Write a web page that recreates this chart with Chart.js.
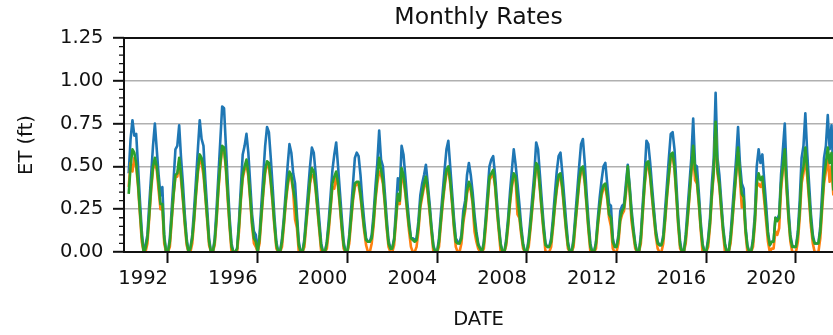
<!DOCTYPE html>
<html>
<head>
<meta charset="utf-8">
<script src="https://cdn.jsdelivr.net/npm/chart.js@4"></script>
<style>
  html, body { margin: 0; padding: 0; background: #ffffff; }
  canvas { display: block; }
</style>
</head>
<body>
<canvas id="chart" width="833" height="335"></canvas>
<script>
// First month of the monthly record
const FIRST_MONTH = '1990-04';

// Monthly ET (ft), upper series
const etHigh = [
  0.46, 0.66, 0.77, 0.68, 0.69, 0.50, 0.30, 0.12, 0.00,                 // 1990 Apr-Dec
  0.04, 0.10, 0.28, 0.45, 0.62, 0.75, 0.60, 0.45, 0.33, 0.38, 0.10, 0.00, // 1991
  0.00, 0.08, 0.25, 0.42, 0.60, 0.62, 0.74, 0.55, 0.40, 0.22, 0.08, 0.00, // 1992
  0.02, 0.10, 0.25, 0.42, 0.60, 0.77, 0.66, 0.62, 0.42, 0.25, 0.08, 0.00, // 1993
  0.00, 0.08, 0.25, 0.45, 0.65, 0.85, 0.84, 0.62, 0.40, 0.20, 0.05, 0.00, // 1994
  0.00, 0.02, 0.18, 0.38, 0.57, 0.62, 0.69, 0.58, 0.40, 0.22, 0.12, 0.10, // 1995
  0.00, 0.10, 0.28, 0.45, 0.62, 0.73, 0.70, 0.55, 0.38, 0.20, 0.06, 0.00, // 1996
  0.00, 0.08, 0.20, 0.35, 0.50, 0.63, 0.58, 0.46, 0.40, 0.22, 0.06, 0.00, // 1997
  0.00, 0.08, 0.22, 0.36, 0.50, 0.61, 0.58, 0.46, 0.32, 0.18, 0.05, 0.00, // 1998
  0.00, 0.06, 0.18, 0.33, 0.48, 0.57, 0.64, 0.50, 0.35, 0.20, 0.06, 0.00, // 1999
  0.00, 0.10, 0.25, 0.40, 0.55, 0.58, 0.56, 0.45, 0.30, 0.18, 0.08, 0.06, // 2000
  0.06, 0.10, 0.22, 0.38, 0.52, 0.71, 0.54, 0.50, 0.35, 0.20, 0.07, 0.02, // 2001
  0.02, 0.08, 0.25, 0.43, 0.36, 0.62, 0.57, 0.44, 0.30, 0.18, 0.08, 0.08, // 2002
  0.07, 0.08, 0.18, 0.33, 0.40, 0.45, 0.51, 0.40, 0.28, 0.15, 0.04, 0.00, // 2003
  0.00, 0.08, 0.22, 0.35, 0.48, 0.60, 0.65, 0.50, 0.35, 0.20, 0.08, 0.06, // 2004
  0.05, 0.10, 0.24, 0.30, 0.45, 0.52, 0.45, 0.35, 0.22, 0.12, 0.05, 0.02, // 2005
  0.00, 0.06, 0.20, 0.35, 0.50, 0.54, 0.56, 0.45, 0.30, 0.16, 0.05, 0.00, // 2006
  0.00, 0.08, 0.20, 0.35, 0.48, 0.60, 0.51, 0.40, 0.28, 0.15, 0.05, 0.00, // 2007
  0.00, 0.08, 0.20, 0.33, 0.46, 0.64, 0.60, 0.45, 0.30, 0.16, 0.05, 0.03, // 2008
  0.03, 0.08, 0.20, 0.34, 0.47, 0.56, 0.58, 0.46, 0.32, 0.18, 0.06, 0.00, // 2009
  0.00, 0.08, 0.22, 0.36, 0.50, 0.63, 0.66, 0.52, 0.34, 0.18, 0.05, 0.00, // 2010
  0.00, 0.06, 0.20, 0.32, 0.42, 0.50, 0.52, 0.40, 0.28, 0.27, 0.08, 0.03, // 2011
  0.03, 0.10, 0.24, 0.27, 0.28, 0.40, 0.51, 0.39, 0.25, 0.14, 0.05, 0.00, // 2012
  0.00, 0.10, 0.28, 0.45, 0.65, 0.63, 0.52, 0.38, 0.25, 0.13, 0.06, 0.04, // 2013
  0.04, 0.10, 0.25, 0.40, 0.55, 0.69, 0.70, 0.60, 0.40, 0.20, 0.06, 0.00, // 2014
  0.00, 0.10, 0.25, 0.40, 0.55, 0.78, 0.51, 0.50, 0.35, 0.18, 0.05, 0.00, // 2015
  0.00, 0.08, 0.20, 0.40, 0.55, 0.93, 0.55, 0.45, 0.30, 0.15, 0.05, 0.00, // 2016
  0.00, 0.10, 0.25, 0.40, 0.55, 0.73, 0.52, 0.40, 0.37, 0.15, 0.04, 0.00, // 2017
  0.00, 0.08, 0.22, 0.50, 0.60, 0.52, 0.57, 0.42, 0.28, 0.12, 0.04, 0.06, // 2018
  0.06, 0.20, 0.19, 0.22, 0.45, 0.60, 0.75, 0.45, 0.25, 0.10, 0.04, 0.03, // 2019
  0.03, 0.12, 0.30, 0.55, 0.62, 0.81, 0.58, 0.40, 0.22, 0.10, 0.05, 0.05, // 2020
  0.05, 0.15, 0.35, 0.55, 0.62, 0.80, 0.60, 0.74, 0.45, 0.20, 0.06, 0.02  // 2021
];

// Monthly ET (ft), lower series
const etLow = [
  0.38, 0.52, 0.47, 0.55, 0.50, 0.38, 0.22, 0.06, 0.00,                 // 1990 Apr-Dec
  0.00, 0.05, 0.20, 0.36, 0.48, 0.53, 0.48, 0.36, 0.25, 0.26, 0.05, 0.00, // 1991
  0.00, 0.03, 0.18, 0.33, 0.44, 0.44, 0.53, 0.42, 0.30, 0.16, 0.04, 0.00, // 1992
  0.00, 0.05, 0.18, 0.33, 0.46, 0.55, 0.52, 0.45, 0.32, 0.18, 0.04, 0.00, // 1993
  0.00, 0.04, 0.18, 0.36, 0.50, 0.60, 0.60, 0.48, 0.30, 0.14, 0.00, 0.00, // 1994
  0.00, 0.00, 0.12, 0.30, 0.43, 0.48, 0.52, 0.44, 0.30, 0.15, 0.05, 0.03, // 1995
  0.00, 0.05, 0.20, 0.34, 0.46, 0.51, 0.50, 0.40, 0.28, 0.14, 0.02, 0.00, // 1996
  0.00, 0.03, 0.15, 0.28, 0.38, 0.45, 0.43, 0.35, 0.19, 0.14, 0.00, 0.00, // 1997
  0.00, 0.03, 0.16, 0.28, 0.40, 0.45, 0.45, 0.36, 0.24, 0.12, 0.00, 0.00, // 1998
  0.00, 0.02, 0.12, 0.25, 0.38, 0.37, 0.45, 0.38, 0.26, 0.13, 0.02, 0.00, // 1999
  0.00, 0.05, 0.18, 0.30, 0.38, 0.40, 0.39, 0.32, 0.22, 0.12, 0.04, 0.00, // 2000
  0.00, 0.05, 0.15, 0.30, 0.40, 0.47, 0.45, 0.40, 0.28, 0.14, 0.03, 0.00, // 2001
  0.00, 0.04, 0.18, 0.32, 0.28, 0.45, 0.42, 0.34, 0.23, 0.12, 0.03, 0.00, // 2002
  0.00, 0.03, 0.12, 0.26, 0.32, 0.38, 0.42, 0.34, 0.23, 0.11, 0.00, 0.00, // 2003
  0.00, 0.03, 0.16, 0.28, 0.38, 0.46, 0.48, 0.40, 0.28, 0.14, 0.03, 0.00, // 2004
  0.00, 0.05, 0.17, 0.24, 0.34, 0.39, 0.36, 0.28, 0.12, 0.06, 0.02, 0.00, // 2005
  0.00, 0.02, 0.14, 0.28, 0.42, 0.44, 0.46, 0.38, 0.24, 0.12, 0.00, 0.00, // 2006
  0.00, 0.04, 0.15, 0.28, 0.38, 0.44, 0.42, 0.22, 0.20, 0.10, 0.02, 0.00, // 2007
  0.00, 0.03, 0.14, 0.26, 0.38, 0.50, 0.48, 0.36, 0.23, 0.11, 0.00, 0.00, // 2008
  0.00, 0.03, 0.14, 0.26, 0.36, 0.43, 0.44, 0.36, 0.24, 0.12, 0.02, 0.00, // 2009
  0.00, 0.03, 0.16, 0.28, 0.40, 0.47, 0.48, 0.40, 0.26, 0.12, 0.00, 0.00, // 2010
  0.00, 0.02, 0.15, 0.25, 0.33, 0.37, 0.38, 0.31, 0.20, 0.15, 0.02, 0.00, // 2011
  0.00, 0.05, 0.18, 0.22, 0.24, 0.34, 0.47, 0.35, 0.18, 0.10, 0.02, 0.00, // 2012
  0.00, 0.05, 0.22, 0.38, 0.50, 0.50, 0.43, 0.31, 0.20, 0.09, 0.02, 0.00, // 2013
  0.00, 0.05, 0.18, 0.32, 0.44, 0.55, 0.56, 0.48, 0.32, 0.15, 0.02, 0.00, // 2014
  0.00, 0.05, 0.18, 0.32, 0.46, 0.58, 0.42, 0.40, 0.28, 0.13, 0.00, 0.00, // 2015
  0.00, 0.03, 0.15, 0.32, 0.46, 0.73, 0.46, 0.38, 0.24, 0.11, 0.00, 0.00, // 2016
  0.00, 0.05, 0.18, 0.32, 0.45, 0.58, 0.43, 0.26, 0.30, 0.11, 0.00, 0.00, // 2017
  0.00, 0.03, 0.16, 0.38, 0.40, 0.38, 0.41, 0.30, 0.18, 0.06, 0.00, 0.02, // 2018
  0.02, 0.12, 0.10, 0.14, 0.36, 0.48, 0.56, 0.36, 0.19, 0.06, 0.00, 0.00, // 2019
  0.00, 0.06, 0.20, 0.40, 0.46, 0.55, 0.44, 0.30, 0.15, 0.05, 0.00, 0.00, // 2020
  0.00, 0.08, 0.25, 0.40, 0.47, 0.55, 0.41, 0.50, 0.33, 0.14, 0.02, 0.00  // 2021
];

// Monthly ET (ft), middle series
const etMid = [
  0.34, 0.50, 0.60, 0.58, 0.52, 0.40, 0.24, 0.09, 0.00,                 // 1990 Apr-Dec
  0.02, 0.08, 0.22, 0.38, 0.50, 0.55, 0.50, 0.40, 0.28, 0.28, 0.08, 0.00, // 1991
  0.00, 0.06, 0.20, 0.34, 0.45, 0.46, 0.55, 0.45, 0.32, 0.18, 0.06, 0.00, // 1992
  0.02, 0.08, 0.20, 0.35, 0.48, 0.57, 0.55, 0.48, 0.34, 0.20, 0.06, 0.00, // 1993
  0.00, 0.06, 0.20, 0.38, 0.52, 0.62, 0.61, 0.50, 0.33, 0.16, 0.03, 0.00, // 1994
  0.00, 0.02, 0.15, 0.32, 0.45, 0.50, 0.54, 0.46, 0.32, 0.17, 0.08, 0.06, // 1995
  0.00, 0.08, 0.22, 0.36, 0.48, 0.53, 0.52, 0.42, 0.30, 0.16, 0.04, 0.00, // 1996
  0.00, 0.06, 0.17, 0.30, 0.40, 0.47, 0.45, 0.37, 0.30, 0.18, 0.04, 0.00, // 1997
  0.00, 0.06, 0.18, 0.30, 0.42, 0.49, 0.47, 0.38, 0.26, 0.14, 0.03, 0.00, // 1998
  0.00, 0.05, 0.15, 0.27, 0.40, 0.44, 0.47, 0.40, 0.28, 0.15, 0.04, 0.00, // 1999
  0.00, 0.08, 0.20, 0.32, 0.40, 0.41, 0.41, 0.34, 0.24, 0.14, 0.07, 0.06, // 2000
  0.06, 0.08, 0.18, 0.32, 0.44, 0.55, 0.48, 0.42, 0.30, 0.16, 0.05, 0.02, // 2001
  0.02, 0.07, 0.20, 0.34, 0.30, 0.49, 0.45, 0.36, 0.25, 0.15, 0.08, 0.07, // 2002
  0.06, 0.07, 0.15, 0.28, 0.34, 0.40, 0.44, 0.36, 0.25, 0.13, 0.03, 0.00, // 2003
  0.00, 0.06, 0.18, 0.30, 0.40, 0.48, 0.50, 0.42, 0.30, 0.16, 0.06, 0.05, // 2004
  0.05, 0.08, 0.20, 0.26, 0.36, 0.41, 0.38, 0.30, 0.18, 0.10, 0.04, 0.02, // 2005
  0.00, 0.05, 0.17, 0.30, 0.44, 0.46, 0.48, 0.40, 0.26, 0.14, 0.04, 0.00, // 2006
  0.00, 0.06, 0.17, 0.30, 0.40, 0.46, 0.44, 0.32, 0.22, 0.12, 0.04, 0.00, // 2007
  0.00, 0.06, 0.16, 0.28, 0.40, 0.52, 0.50, 0.38, 0.25, 0.13, 0.04, 0.03, // 2008
  0.03, 0.06, 0.16, 0.28, 0.38, 0.45, 0.46, 0.38, 0.26, 0.14, 0.04, 0.00, // 2009
  0.00, 0.06, 0.18, 0.30, 0.42, 0.49, 0.50, 0.42, 0.28, 0.14, 0.03, 0.00, // 2010
  0.00, 0.05, 0.17, 0.27, 0.35, 0.39, 0.40, 0.33, 0.22, 0.20, 0.06, 0.03, // 2011
  0.03, 0.08, 0.20, 0.24, 0.26, 0.36, 0.50, 0.37, 0.22, 0.12, 0.04, 0.00, // 2012
  0.00, 0.08, 0.24, 0.40, 0.52, 0.53, 0.45, 0.33, 0.22, 0.11, 0.05, 0.04, // 2013
  0.04, 0.08, 0.20, 0.34, 0.46, 0.57, 0.58, 0.50, 0.34, 0.17, 0.04, 0.00, // 2014
  0.00, 0.08, 0.20, 0.34, 0.48, 0.62, 0.48, 0.42, 0.30, 0.15, 0.04, 0.00, // 2015
  0.00, 0.06, 0.17, 0.34, 0.48, 0.76, 0.48, 0.40, 0.26, 0.13, 0.04, 0.00, // 2016
  0.00, 0.08, 0.20, 0.34, 0.47, 0.61, 0.46, 0.34, 0.32, 0.13, 0.03, 0.00, // 2017
  0.00, 0.06, 0.18, 0.40, 0.46, 0.42, 0.44, 0.34, 0.22, 0.10, 0.04, 0.06, // 2018
  0.06, 0.20, 0.18, 0.20, 0.40, 0.50, 0.60, 0.38, 0.21, 0.08, 0.03, 0.03, // 2019
  0.03, 0.10, 0.24, 0.44, 0.50, 0.61, 0.48, 0.33, 0.18, 0.08, 0.05, 0.05, // 2020
  0.05, 0.12, 0.28, 0.44, 0.52, 0.61, 0.52, 0.58, 0.36, 0.16, 0.05, 0.02  // 2021
];

// Axis ticks
const yearTicks = [1992, 1996, 2000, 2004, 2008, 2012, 2016, 2020];
const etTicks = [0, 0.25, 0.5, 0.75, 1.0, 1.25];

// Month labels (YYYY-MM), one per value, starting at FIRST_MONTH
const [firstYear, firstMonth] = FIRST_MONTH.split('-').map(Number);
const dates = etHigh.map((_, i) => {
  const k = firstMonth - 1 + i;
  return `${firstYear + Math.floor(k / 12)}-${String((k % 12) + 1).padStart(2, '0')}`;
});
const decimalYear = d => {
  const [y, m] = d.split('-').map(Number);
  return y + (m - 1) / 12;
};
const toPoints = values => values.map((v, i) => ({ x: decimalYear(dates[i]), y: v }));

const FONT = "'DejaVu Sans', sans-serif";
const INK = '#111111';
const LABEL_SIZE = 19.5;

// Axes frame (left, top, bottom spines) and minor y ticks drawn over the lines
const axesFrame = {
  id: 'axesFrame',
  afterDatasetsDraw(chart) {
    const { ctx, chartArea: a, scales: { y } } = chart;
    ctx.save();
    ctx.strokeStyle = INK;
    ctx.lineWidth = 2;
    ctx.beginPath();
    ctx.moveTo(a.left, a.bottom);
    ctx.lineTo(a.left, a.top);
    ctx.lineTo(a.right + 2, a.top);
    ctx.moveTo(a.left - 1, a.bottom);
    ctx.lineTo(a.right + 2, a.bottom);
    ctx.stroke();

    ctx.lineWidth = 1.3;
    ctx.beginPath();
    for (let k = 1; k < 25; k++) {
      if (k % 5 === 0) continue;
      const py = y.getPixelForValue(k * 0.05);
      ctx.moveTo(a.left - 5, py);
      ctx.lineTo(a.left, py);
    }
    ctx.stroke();
    ctx.restore();
  }
};

const lineStyle = color => ({
  borderColor: color,
  backgroundColor: color,
  borderWidth: 2.6,
  pointRadius: 0,
  tension: 0,
  fill: false,
  clip: 0,
  borderJoinStyle: 'round'
});

new Chart(document.getElementById('chart'), {
  type: 'line',
  data: {
    datasets: [
      { label: 'ET high', data: toPoints(etHigh), order: 3, ...lineStyle('#1f77b4') },
      { label: 'ET low', data: toPoints(etLow), order: 2, ...lineStyle('#ff7f0e') },
      { label: 'ET mid', data: toPoints(etMid), order: 1, ...lineStyle('#2ca02c') }
    ]
  },
  options: {
    responsive: false,
    animation: false,
    devicePixelRatio: 1,
    layout: { padding: 0 },
    plugins: {
      legend: { display: false },
      tooltip: { enabled: false },
      title: {
        display: true,
        text: 'Monthly Rates',
        fullSize: false,
        color: INK,
        font: { family: FONT, size: 23.6, weight: 'normal' },
        padding: { top: 4.1, bottom: 5.6 }
      }
    },
    scales: {
      x: {
        type: 'linear',
        min: 1990.04,
        max: 2021.65,
        afterBuildTicks: s => { s.ticks = yearTicks.map(v => ({ value: v })); },
        afterFit: s => { s.height = 83; },
        grid: { drawOnChartArea: false, drawTicks: true, tickLength: 11, tickColor: INK, tickWidth: 2 },
        border: { display: false },
        ticks: {
          align: 'end', autoSkip: false, maxRotation: 0, minRotation: 0, padding: 3.8,
          color: INK, font: { family: FONT, size: LABEL_SIZE },
          callback: v => String(v)
        },
        title: {
          display: true, text: 'DATE', color: INK,
          font: { family: FONT, size: LABEL_SIZE },
          padding: { top: 0, bottom: 3.3 }
        }
      },
      y: {
        min: 0,
        max: 1.25,
        afterBuildTicks: s => { s.ticks = etTicks.map(v => ({ value: v })); },
        afterFit: s => { s.width = 124; },
        grid: { color: '#b0b0b0', lineWidth: 1.6, tickLength: 11, tickColor: INK, tickWidth: 2 },
        border: { display: false },
        ticks: {
          padding: 9.5, color: INK, font: { family: FONT, size: LABEL_SIZE },
          callback: v => Number(v).toFixed(2)
        },
        title: {
          display: true, text: 'ET (ft)', color: INK,
          font: { family: FONT, size: LABEL_SIZE },
          padding: { top: 15.3, bottom: 0 }
        }
      }
    }
  },
  plugins: [axesFrame]
});
</script>
</body>
</html>
